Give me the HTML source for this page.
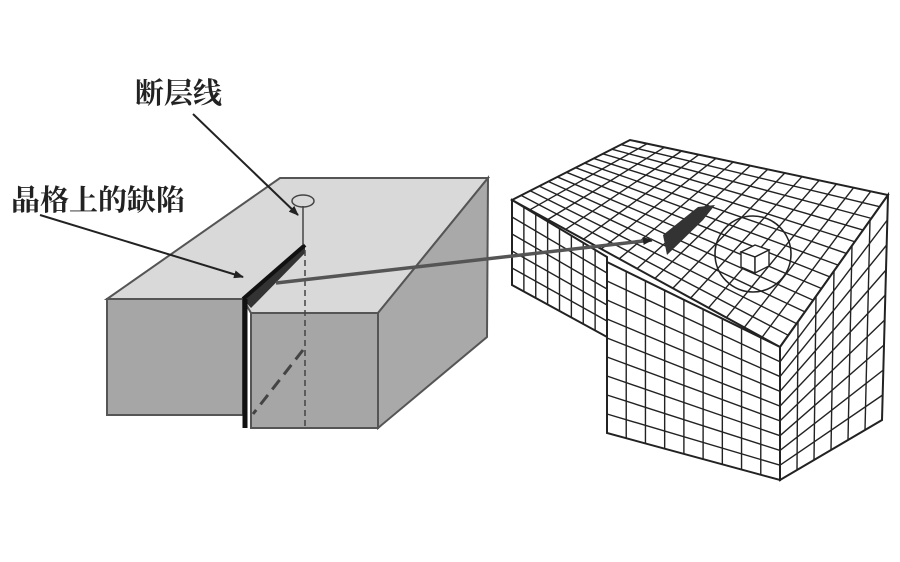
<!DOCTYPE html>
<html><head><meta charset="utf-8"><style>
html,body{margin:0;padding:0;background:#fff;}
svg{display:block;}
text{font-family:"Liberation Serif","Noto Serif CJK SC","Noto Sans CJK SC",serif;font-weight:bold;fill:#222;}
</style></head><body>
<svg id="s" width="900" height="562" viewBox="0 0 900 562" xmlns="http://www.w3.org/2000/svg">
<defs>
<marker id="ah" markerWidth="10" markerHeight="8" refX="9" refY="4" orient="auto" markerUnits="userSpaceOnUse">
<path d="M0,0 L10,4 L0,8 Z" fill="#222"/></marker>
</defs>
<!-- left block -->
<polygon points="107,299 280,178 488,178 378,313 251,313 243,299" fill="#d9d9d9" stroke="#555" stroke-width="2"/>
<polygon points="378,313 488,178 487,337 378,428" fill="#a9a9a9" stroke="#555" stroke-width="2"/>
<polygon points="107,299 243,299 243,415 107,415" fill="#a6a6a6" stroke="#555" stroke-width="2"/>
<polygon points="251,313 378,313 378,428 251,428" fill="#a6a6a6" stroke="#555" stroke-width="2"/>
<polygon points="243,299 305,245 305,253 251,308" fill="#333"/>
<line x1="245" y1="299" x2="245" y2="428" stroke="#111" stroke-width="5"/>
<line x1="243" y1="299" x2="305" y2="245" stroke="#111" stroke-width="4"/>
<line x1="305" y1="250" x2="305" y2="428" stroke="#444" stroke-width="1.5" stroke-dasharray="6,4"/>
<line x1="303" y1="350" x2="253" y2="414" stroke="#444" stroke-width="3" stroke-dasharray="12,7"/>
<line x1="303" y1="206" x2="303" y2="245" stroke="#444" stroke-width="1.5"/>
<ellipse cx="303" cy="201" rx="11" ry="6" fill="none" stroke="#444" stroke-width="1.5"/>
<!-- labels -->
<text x="135" y="103" font-size="29">断层线</text>
<text x="11" y="210" font-size="29">晶格上的缺陷</text>
<line x1="193" y1="114" x2="298" y2="215" stroke="#222" stroke-width="2" marker-end="url(#ah)"/>
<line x1="40" y1="215" x2="243" y2="277" stroke="#222" stroke-width="2" marker-end="url(#ah)"/>
<!-- lattice block -->
<g id="grid" stroke="#222" stroke-width="1.4" fill="none"></g>
<polygon points="663,235 667,255 703,220 715,205 698,207" fill="#333"/>
<circle cx="753" cy="254" r="38" fill="none" stroke="#222" stroke-width="1.6"/>
<g stroke="#222" stroke-width="1.4" fill="#fff">
<polygon points="741,252 755,245 769,250 755,257"/>
<polygon points="741,252 755,257 755,273 741,267"/>
<polygon points="755,257 769,250 769,266 755,273"/>
</g>
<line x1="276" y1="283" x2="652" y2="240" stroke="#555" stroke-width="3.5" marker-end="url(#ah)"/>
</svg>
<script>
var g=document.getElementById('grid');
function L(a,b,t){return [a[0]+(b[0]-a[0])*t,a[1]+(b[1]-a[1])*t];}
function ln(p,q){var e=document.createElementNS('http://www.w3.org/2000/svg','line');e.setAttribute('x1',p[0]);e.setAttribute('y1',p[1]);e.setAttribute('x2',q[0]);e.setAttribute('y2',q[1]);g.appendChild(e);}
function quad(a,b,c,d,nu,nv){
 var poly=document.createElementNS('http://www.w3.org/2000/svg','polygon');
 poly.setAttribute('points',[a,b,c,d].map(function(p){return p.join(',')}).join(' '));
 poly.setAttribute('fill','#fff');poly.setAttribute('stroke-width','2');g.appendChild(poly);
 for(var i=1;i<nu;i++){var t=i/nu;ln(L(a,b,t),L(d,c,t));}
 for(var j=1;j<nv;j++){var s=j/nv;ln(L(a,d,s),L(b,c,s));}
}
quad([512,200],[630,140],[888,195],[780,347],13,15);
quad([512,200],[607,257],[607,337],[512,285],8,5);
quad([607,262],[780,347],[780,480],[607,433],9,9);
quad([780,347],[888,195],[882,420],[780,480],6,9);
</script>
</body></html>
